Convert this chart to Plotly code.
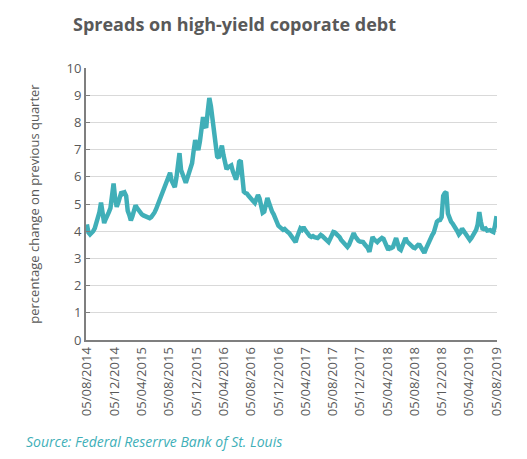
import pandas as pd
import plotly.graph_objects as go

start_date = "2014-08-04"
n_weeks = 262
spread_values = [
    4.25, 3.95, 3.88, 3.92, 4.00, 4.10, 4.28, 4.45, 4.70, 5.05,
    4.55, 4.30, 4.45, 4.55, 4.70, 4.85, 5.20, 5.75, 5.20, 4.90,
    5.05, 5.30, 5.45, 5.38, 5.42, 5.30, 4.75, 4.60, 4.40, 4.55,
    4.80, 4.95, 4.85, 4.75, 4.70, 4.62, 4.58, 4.55, 4.52, 4.50,
    4.48, 4.52, 4.58, 4.68, 4.80, 4.95, 5.05, 5.15, 5.30, 5.50,
    5.60, 5.80, 6.00, 6.15, 5.85, 5.70, 5.62, 5.95, 6.40, 6.87,
    6.25, 6.05, 5.85, 5.78, 5.95, 6.15, 6.35, 6.50, 6.95, 7.35,
    7.15, 6.98, 7.30, 7.80, 8.20, 7.90, 7.80, 8.40, 8.90, 8.60,
    8.15, 7.40, 6.98, 6.75, 6.69, 7.00, 7.15, 6.80, 6.45, 6.28,
    6.35, 6.40, 6.42, 6.20, 6.05, 5.90, 6.10, 6.55, 6.60, 5.80,
    5.45, 5.40, 5.38, 5.30, 5.25, 5.18, 5.10, 5.04, 5.20, 5.33,
    5.20, 4.90, 4.68, 4.72, 5.00, 5.22, 5.05, 4.85, 4.72, 4.62,
    4.45, 4.30, 4.20, 4.15, 4.12, 4.05, 4.08, 4.00, 3.97, 3.92,
    3.85, 3.78, 3.70, 3.60, 3.80, 4.00, 4.10, 4.05, 4.15, 4.05,
    3.95, 3.88, 3.82, 3.79, 3.82, 3.78, 3.76, 3.75, 3.80, 3.86,
    3.82, 3.75, 3.68, 3.62, 3.60, 3.72, 3.85, 3.97, 3.95, 3.90,
    3.86, 3.78, 3.68, 3.60, 3.55, 3.50, 3.42, 3.50, 3.65, 3.80,
    3.93, 3.80, 3.68, 3.65, 3.62, 3.62, 3.60, 3.52, 3.45, 3.38,
    3.24, 3.45, 3.79, 3.70, 3.65, 3.60, 3.66, 3.72, 3.75, 3.72,
    3.55, 3.40, 3.31, 3.40, 3.38, 3.42, 3.60, 3.75, 3.55, 3.35,
    3.31, 3.50, 3.68, 3.75, 3.62, 3.55, 3.49, 3.45, 3.40, 3.38,
    3.45, 3.50, 3.49, 3.40, 3.30, 3.20, 3.35, 3.50, 3.60, 3.75,
    3.86, 3.95, 4.25, 4.35, 4.40, 4.41, 4.52, 5.30, 5.40, 5.44,
    4.65, 4.45, 4.35, 4.28, 4.20, 4.15, 4.00, 3.88, 3.95, 4.10,
    4.02, 3.90, 3.80, 3.72, 3.68, 3.75, 3.85, 3.93, 4.05, 4.25,
    4.70, 4.35, 4.10, 4.08, 4.10, 4.02, 4.05, 4.04, 4.00, 3.97,
    4.20, 4.55,
]
dates = pd.date_range(start_date, periods=n_weeks, freq="7D")

tick_dates = ["2014-08-05", "2014-12-05", "2015-04-05", "2015-08-05", "2015-12-05",
              "2016-04-05", "2016-08-05", "2016-12-05", "2017-04-05", "2017-08-05",
              "2017-12-05", "2018-04-05", "2018-08-05", "2018-12-05", "2019-04-05",
              "2019-08-05"]
tick_labels = ["05/08/2014", "05/12/2014", "05/04/2015", "05/08/2015", "05/12/2015",
               "05/04/2016", "05/08/2016", "05/12/2016", "05/04/2017", "05/08/2017",
               "05/12/2017", "05/04/2018", "05/08/2018", "05/12/2018", "05/04/2019",
               "05/08/2019"]
y_ticks = list(range(0, 11))

title_text = "Spreads on high-yield coporate debt"
y_title = "percentage change on previous quarter"
source_text = "Source: Federal Reserrve Bank of St. Louis"

teal = "#40AFB8"
grey_text = "#595959"
font_family = "Open Sans, Noto Sans, sans-serif"

fig = go.Figure()
fig.add_trace(go.Scatter(
    x=dates, y=spread_values[:n_weeks], mode="lines",
    line=dict(color=teal, width=4.5), hoverinfo="skip", showlegend=False,
))

fig.update_layout(
    width=527, height=459,
    margin=dict(l=86, r=30, t=68, b=119),
    paper_bgcolor="white", plot_bgcolor="white",
    font=dict(family=font_family, color=grey_text),
    title=dict(text="<b>" + title_text + "</b>", x=73 / 527, xanchor="left",
               y=1 - 25 / 459, yanchor="middle", xref="container", yref="container",
               font=dict(size=18, color=grey_text, family=font_family)),
    xaxis=dict(
        range=["2014-07-31", "2019-08-07"],
        tickmode="array", tickvals=tick_dates, ticktext=tick_labels,
        tickangle=-90, tickfont=dict(size=13, color=grey_text),
        showgrid=False, showline=True, linecolor="#7f7f7f", linewidth=2,
        ticks="", zeroline=False,
    ),
    yaxis=dict(
        range=[0, 10], tickmode="array", tickvals=y_ticks,
        tickfont=dict(size=13, color=grey_text),
        showgrid=True, gridcolor="#d9d9d9", gridwidth=1,
        showline=True, linecolor="#7f7f7f", linewidth=2,
        ticks="inside", ticklen=4, tickcolor="#7f7f7f", tickwidth=1,
        zeroline=False,
        title=dict(text=y_title, font=dict(size=13, color=grey_text), standoff=24),
    ),
    annotations=[dict(
        text="<i>" + source_text + "</i>", x=(24 - 86) / 411, y=(340 - 441) / 272,
        xref="paper", yref="paper", xanchor="left", yanchor="middle",
        showarrow=False, font=dict(size=14, color=teal, family=font_family),
    )],
)

fig.write_html("out.html")
